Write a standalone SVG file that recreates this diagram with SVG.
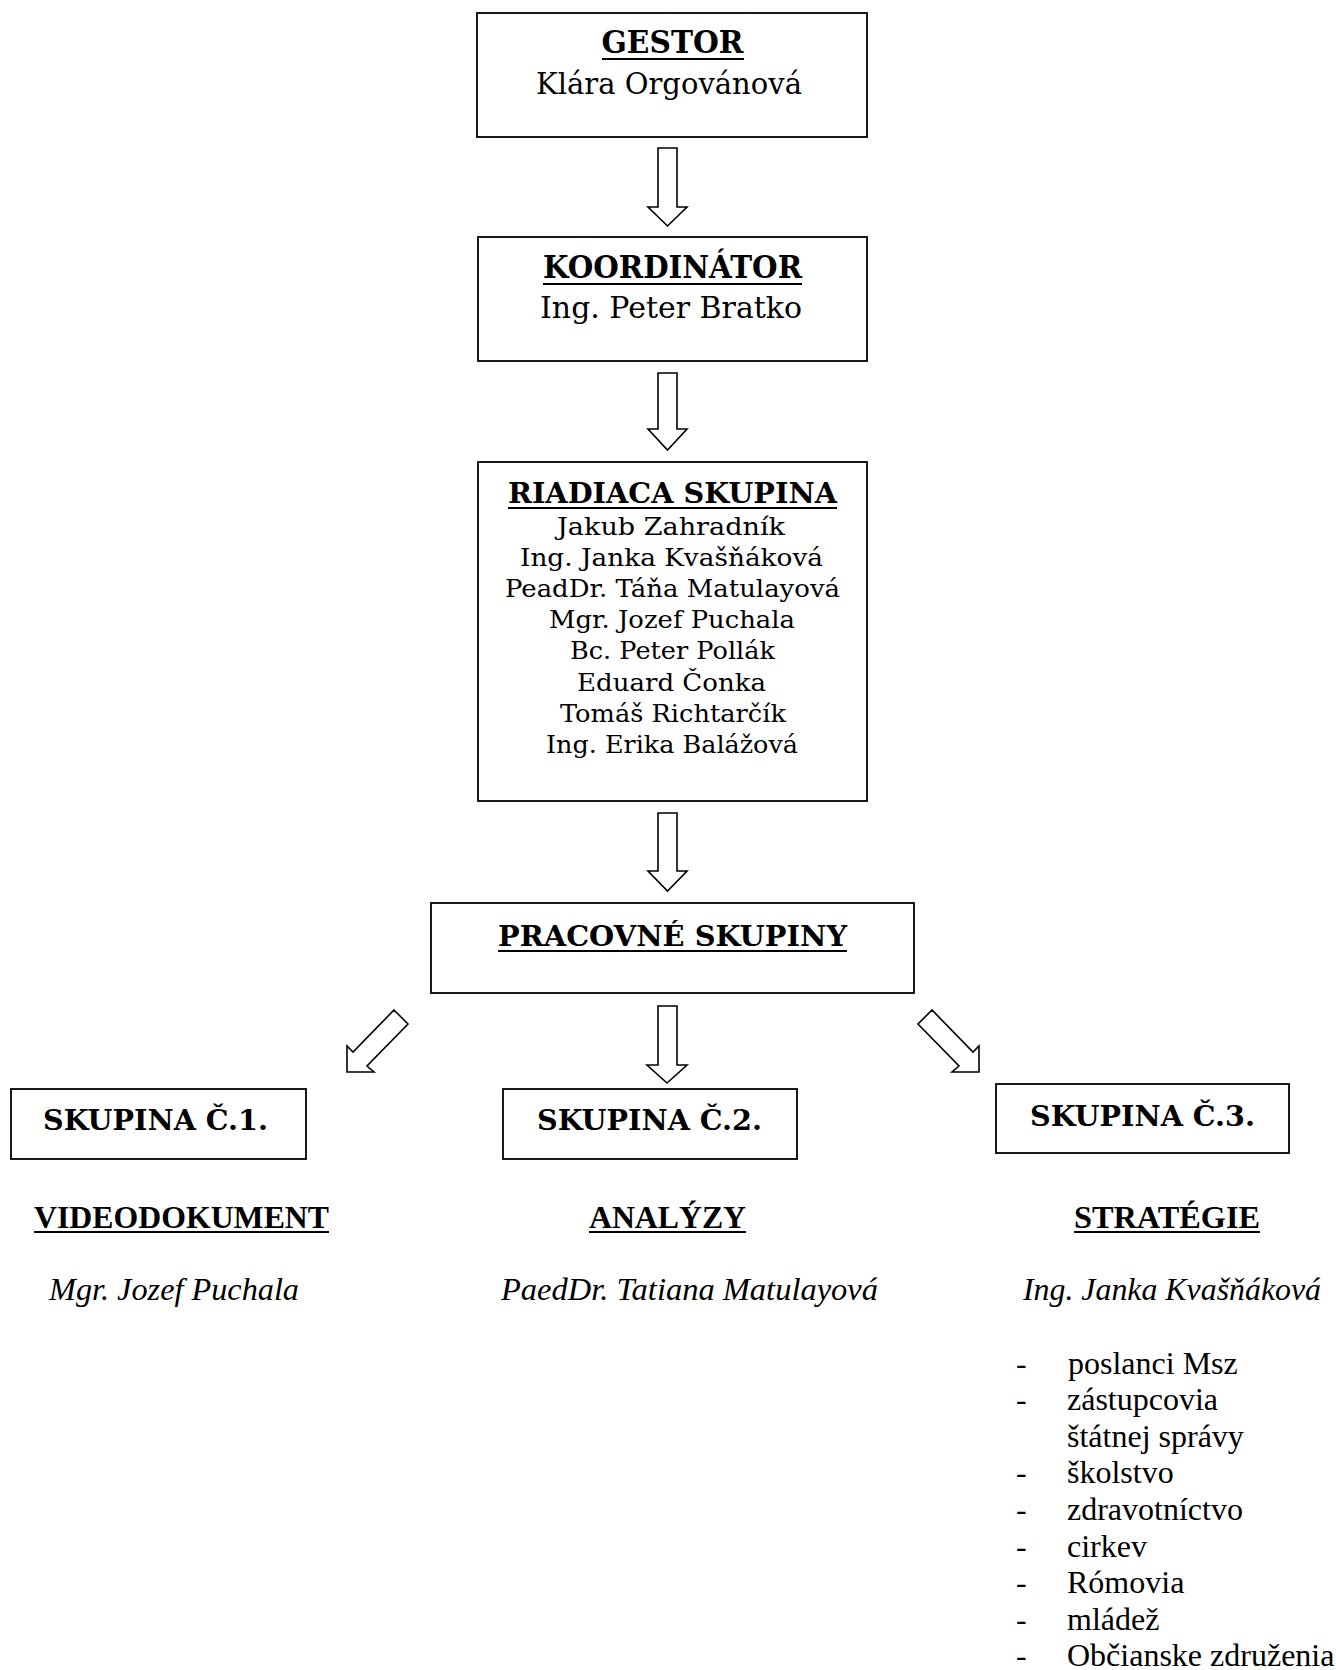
<svg xmlns="http://www.w3.org/2000/svg" width="1336" height="1670" viewBox="0 0 1336 1670">
<style>
.box{fill:#fff;stroke:#000;stroke-width:1.8}
.arr{fill:#fff;stroke:#000;stroke-width:1.6;stroke-linejoin:miter}
.ul{stroke:#000;stroke-width:2}
.hb{font-family:"DejaVu Serif","Bookman Old Style",serif;font-weight:bold;fill:#000;text-anchor:middle}
.hr{font-family:"DejaVu Serif","Bookman Old Style",serif;fill:#000;text-anchor:middle}
.tb{font-family:"Liberation Serif","Times New Roman",serif;font-weight:bold;font-size:32px;fill:#000;text-anchor:middle}
.ti{font-family:"Liberation Serif","Times New Roman",serif;font-style:italic;font-size:32px;fill:#000;text-anchor:middle}
.tr{font-family:"Liberation Serif","Times New Roman",serif;font-size:32px;fill:#000}
</style>
<rect width="1336" height="1670" fill="#fff"/>
<g id="connectors">
<path class="arr" d="M658,148 H677 V207 H687 L667.5,226 L648,207 H658 Z"/>
<path class="arr" d="M658,373 H677 V429 H687 L667.5,450 L648,429 H658 Z"/>
<path class="arr" d="M658,813 H677 V871 H687 L667.5,891 L648,871 H658 Z"/>
<path class="arr" d="M658,1006 H677 V1065 H687 L667,1083 L647,1065 H658 Z"/>
<path class="arr" d="M394,1010 L408,1024 L367,1066 L374,1072 L347,1072 L347,1046 L353,1052 Z"/>
<path class="arr" d="M932,1010 L918,1024 L959,1066 L952,1072 L979,1072 L979,1046 L973,1052 Z"/>
</g>
<g id="gestor">
<rect class="box" x="477" y="13" width="390" height="124"/>
<text class="hb" x="672.5" y="53" font-size="31" textLength="142" lengthAdjust="spacingAndGlyphs">GESTOR</text>
<line class="ul" x1="602" y1="59" x2="744" y2="59"/>
<text class="hr" x="669" y="94" font-size="29" textLength="266" lengthAdjust="spacingAndGlyphs">Klára Orgovánová</text>
</g>
<g id="koordinator">
<rect class="box" x="478" y="237" width="389" height="124"/>
<text class="hb" x="672.5" y="278" font-size="31" textLength="259" lengthAdjust="spacingAndGlyphs">KOORDINÁTOR</text>
<line class="ul" x1="543" y1="284" x2="802" y2="284"/>
<text class="hr" x="671" y="318" font-size="29" textLength="262" lengthAdjust="spacingAndGlyphs">Ing. Peter Bratko</text>
</g>
<g id="riadiaca">
<rect class="box" x="478" y="462" width="389" height="339"/>
<text class="hb" x="672.5" y="503" font-size="28" textLength="329" lengthAdjust="spacingAndGlyphs">RIADIACA SKUPINA</text>
<line class="ul" x1="508" y1="508" x2="837" y2="508"/>
<text class="hr" x="671" y="535" font-size="25" textLength="228" lengthAdjust="spacingAndGlyphs">Jakub Zahradník</text>
<text class="hr" x="671.5" y="566" font-size="25" textLength="303" lengthAdjust="spacingAndGlyphs">Ing. Janka Kvašňáková</text>
<text class="hr" x="672.5" y="597" font-size="25" textLength="335" lengthAdjust="spacingAndGlyphs">PeadDr. Táňa Matulayová</text>
<text class="hr" x="672" y="628" font-size="25" textLength="246" lengthAdjust="spacingAndGlyphs">Mgr. Jozef Puchala</text>
<text class="hr" x="672.5" y="659" font-size="25" textLength="205" lengthAdjust="spacingAndGlyphs">Bc. Peter Pollák</text>
<text class="hr" x="671.5" y="691" font-size="25" textLength="189" lengthAdjust="spacingAndGlyphs">Eduard Čonka</text>
<text class="hr" x="673" y="722" font-size="25" textLength="226" lengthAdjust="spacingAndGlyphs">Tomáš Richtarčík</text>
<text class="hr" x="672" y="753" font-size="25" textLength="252" lengthAdjust="spacingAndGlyphs">Ing. Erika Balážová</text>
</g>
<g id="pracovne">
<rect class="box" x="431" y="903" width="483" height="90"/>
<text class="hb" x="672.5" y="946" font-size="28" textLength="349" lengthAdjust="spacingAndGlyphs">PRACOVNÉ SKUPINY</text>
<line class="ul" x1="498" y1="951" x2="847" y2="951"/>
</g>
<g id="skupina1">
<rect class="box" x="11" y="1089" width="295" height="70"/>
<text class="hb" x="155.5" y="1130" font-size="27" textLength="225" lengthAdjust="spacingAndGlyphs">SKUPINA Č.1.</text>
<text class="tb" x="181.5" y="1228" textLength="295" lengthAdjust="spacingAndGlyphs">VIDEODOKUMENT</text>
<line class="ul" x1="34" y1="1232" x2="329" y2="1232"/>
<text class="ti" x="174" y="1300" textLength="250" lengthAdjust="spacingAndGlyphs">Mgr. Jozef Puchala</text>
</g>
<g id="skupina2">
<rect class="box" x="503" y="1089" width="294" height="70"/>
<text class="hb" x="649.5" y="1130" font-size="27" textLength="225" lengthAdjust="spacingAndGlyphs">SKUPINA Č.2.</text>
<text class="tb" x="667.5" y="1228" textLength="157" lengthAdjust="spacingAndGlyphs">ANALÝZY</text>
<line class="ul" x1="589" y1="1232" x2="746" y2="1232"/>
<text class="ti" x="689.5" y="1300" textLength="377" lengthAdjust="spacingAndGlyphs">PaedDr. Tatiana Matulayová</text>
</g>
<g id="skupina3">
<rect class="box" x="996" y="1084" width="293" height="69"/>
<text class="hb" x="1142.5" y="1126" font-size="27" textLength="225" lengthAdjust="spacingAndGlyphs">SKUPINA Č.3.</text>
<text class="tb" x="1167" y="1228" textLength="186" lengthAdjust="spacingAndGlyphs">STRATÉGIE</text>
<line class="ul" x1="1074" y1="1232" x2="1260" y2="1232"/>
<text class="ti" x="1172" y="1300" textLength="298" lengthAdjust="spacingAndGlyphs">Ing. Janka Kvašňáková</text>
</g>
<g id="zoznam">
<text class="tr" x="1016" y="1374">-</text><text class="tr" x="1068" y="1374">poslanci Msz</text>
<text class="tr" x="1016" y="1410">-</text><text class="tr" x="1067" y="1410">zástupcovia</text>
<text class="tr" x="1067" y="1447">štátnej správy</text>
<text class="tr" x="1016" y="1483">-</text><text class="tr" x="1067" y="1483">školstvo</text>
<text class="tr" x="1016" y="1520">-</text><text class="tr" x="1067" y="1520">zdravotníctvo</text>
<text class="tr" x="1016" y="1557">-</text><text class="tr" x="1067" y="1557">cirkev</text>
<text class="tr" x="1016" y="1593">-</text><text class="tr" x="1067" y="1593">Rómovia</text>
<text class="tr" x="1016" y="1630">-</text><text class="tr" x="1067" y="1630">mládež</text>
<text class="tr" x="1016" y="1666">-</text><text class="tr" x="1067" y="1666">Občianske združenia</text>
</g>
</svg>
